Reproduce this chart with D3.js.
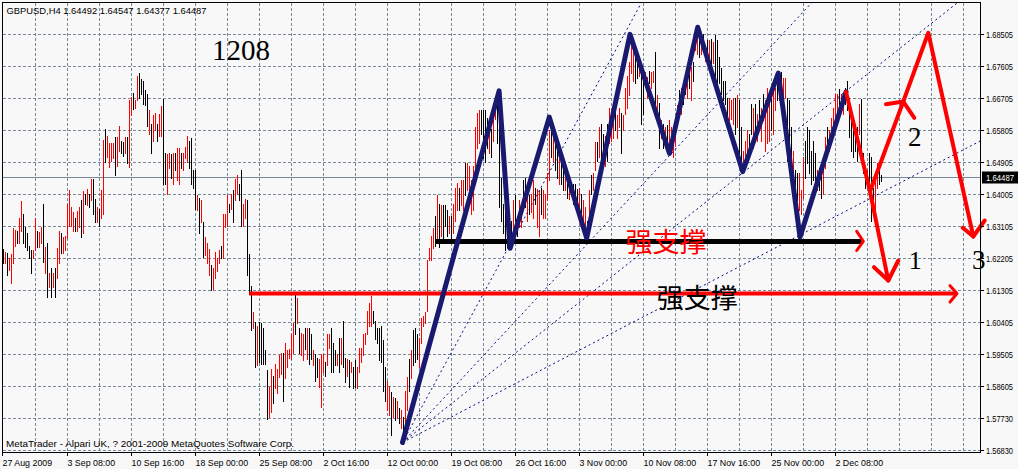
<!DOCTYPE html>
<html><head><meta charset="utf-8">
<script src="https://cdn.jsdelivr.net/npm/d3@7"></script>
<style>body{margin:0;background:#f8f8f8}svg{display:block}</style>
</head><body>
<svg id="c" width="1018" height="469"></svg>
<script>
// ---------- DATA ----------
const titleText = "GBPUSD,H4  1.64492 1.64547 1.64377 1.64487";
const copyrightText = "MetaTrader - Alpari UK, ? 2001-2009 MetaQuotes Software Corp.";
const lastPrice = 1.64487;

const highs = [1.6246,1.6240,1.6235,1.6223,1.6232,1.6305,1.6302,1.6299,1.6335,1.6381,
1.6347,1.6308,1.6293,1.6257,1.6243,1.6243,1.6333,1.6299,1.6296,1.6310,
1.6375,1.6252,1.6265,1.6179,1.6193,1.6179,1.6193,1.6249,1.6299,1.6291,
1.6280,1.6285,1.6375,1.6412,1.6364,1.6350,1.6335,1.6353,1.6364,1.6384,
1.6409,1.6403,1.6417,1.6401,1.6443,1.6443,1.6389,1.6364,1.6361,1.6412,
1.6555,1.6586,1.6566,1.6544,1.6544,1.6544,1.6561,1.6563,1.6592,1.6552,
1.6549,1.6563,1.6563,1.6665,1.6676,1.6687,1.6665,1.6735,1.6741,1.6724,
1.6721,1.6693,1.6684,1.6637,1.6600,1.6623,1.6631,1.6600,1.6628,1.6648,
1.6668,1.6516,1.6513,1.6516,1.6513,1.6518,1.6518,1.6532,1.6532,1.6518,
1.6518,1.6535,1.6566,1.6552,1.6558,1.6468,1.6468,1.6398,1.6392,1.6384,
1.6322,1.6280,1.6263,1.6246,1.6201,1.6193,1.6238,1.6221,1.6243,1.6257,
1.6347,1.6347,1.6398,1.6375,1.6403,1.6412,1.6443,1.6454,1.6431,1.6468,
1.6375,1.6387,1.6384,1.6232,1.6142,1.6069,1.6043,1.6032,1.6043,1.6040,
1.6026,1.5962,1.5906,1.5858,1.5911,1.5891,1.5925,1.5911,1.5948,1.5956,
1.5956,1.5984,1.5962,1.5967,1.6009,1.6038,1.6122,1.6108,1.6026,1.6012,
1.6009,1.6026,1.6026,1.6024,1.6009,1.5962,1.5953,1.5942,1.5939,1.5953,
1.5953,1.5928,1.6009,1.6009,1.6024,1.5984,1.5962,1.5953,1.5998,1.5998,
1.6046,1.5942,1.5939,1.5934,1.5928,1.5914,1.5934,1.5914,1.5970,1.5970,
1.6009,1.6012,1.6074,1.6094,1.6114,1.6074,1.6046,1.6026,1.6024,1.6032,
1.5990,1.5914,1.5877,1.5863,1.5844,1.5830,1.5827,1.5821,1.5799,1.5793,
1.5774,1.5849,1.5886,1.5939,1.5962,1.6018,1.6024,1.6009,1.5998,1.6052,
1.6060,1.6071,1.6215,1.6249,1.6285,1.6305,1.6341,1.6398,1.6375,1.6370,
1.6370,1.6370,1.6356,1.6341,1.6341,1.6375,1.6420,1.6434,1.6420,1.6440,
1.6440,1.6488,1.6488,1.6482,1.6440,1.6482,1.6589,1.6631,1.6637,1.6637,
1.6637,1.6637,1.6617,1.6600,1.6586,1.6609,1.6656,1.6665,1.6684,1.6448,
1.6375,1.6370,1.6335,1.6347,1.6327,1.6384,1.6398,1.6327,1.6384,1.6370,
1.6440,1.6448,1.6412,1.6398,1.6403,1.6440,1.6420,1.6417,1.6412,1.6420,
1.6412,1.6403,1.6462,1.6581,1.6586,1.6581,1.6566,1.6538,1.6505,1.6505,
1.6474,1.6460,1.6440,1.6420,1.6434,1.6431,1.6431,1.6417,1.6420,1.6403,
1.6384,1.6364,1.6327,1.6412,1.6454,1.6460,1.6547,1.6547,1.6589,1.6600,
1.6572,1.6566,1.6600,1.6645,1.6637,1.6637,1.6645,1.6623,1.6645,1.6631,
1.6623,1.6701,1.6735,1.6772,1.6828,1.6806,1.6786,1.6783,1.6769,1.6769,
1.6749,1.6744,1.6730,1.6749,1.6744,1.6749,1.6800,1.6679,1.6659,1.6609,
1.6600,1.6589,1.6595,1.6609,1.6589,1.6589,1.6609,1.6651,1.6693,1.6701,
1.6701,1.6730,1.6715,1.6749,1.6758,1.6772,1.6862,1.6876,1.6853,1.6834,
1.6853,1.6806,1.6834,1.6834,1.6839,1.6828,1.6848,1.6834,1.6786,1.6755,
1.6721,1.6721,1.6673,1.6673,1.6665,1.6673,1.6673,1.6679,1.6665,1.6589,
1.6524,1.6552,1.6581,1.6572,1.6656,1.6645,1.6656,1.6628,1.6665,1.6645,
1.6684,1.6665,1.6701,1.6665,1.6684,1.6713,1.6701,1.6730,1.6727,1.6744,
1.6727,1.6727,1.6673,1.6665,1.6589,1.6524,1.6468,1.6460,1.6460,1.6412,
1.6505,1.6552,1.6589,1.6581,1.6524,1.6552,1.6516,1.6468,1.6476,1.6488,
1.6505,1.6561,1.6589,1.6581,1.6617,1.6645,1.6684,1.6684,1.6698,1.6684,
1.6673,1.6701,1.6721,1.6673,1.6645,1.6609,1.6600,1.6589,1.6656,1.6670,
1.6516,1.6468,1.6468,1.6516,1.6505,1.6420,1.6448,1.6488,1.6468,1.6455];

const lows = [1.6207,1.6207,1.6173,1.6187,1.6151,1.6207,1.6257,1.6265,1.6265,1.6299,
1.6265,1.6252,1.6243,1.6221,1.6179,1.6223,1.6243,1.6252,1.6252,1.6265,
1.6212,1.6179,1.6111,1.6139,1.6111,1.6139,1.6111,1.6165,1.6207,1.6235,
1.6235,1.6243,1.6277,1.6313,1.6313,1.6299,1.6299,1.6299,1.6308,1.6282,
1.6293,1.6375,1.6370,1.6364,1.6384,1.6347,1.6322,1.6322,1.6313,1.6335,
1.6347,1.6491,1.6505,1.6479,1.6496,1.6502,1.6454,1.6482,1.6524,1.6516,
1.6510,1.6516,1.6488,1.6479,1.6623,1.6642,1.6645,1.6665,1.6673,1.6684,
1.6656,1.6651,1.6592,1.6572,1.6518,1.6552,1.6581,1.6552,1.6566,1.6566,
1.6431,1.6431,1.6403,1.6476,1.6448,1.6431,1.6468,1.6440,1.6431,1.6476,
1.6468,1.6502,1.6491,1.6474,1.6431,1.6420,1.6361,1.6356,1.6291,1.6322,
1.6226,1.6229,1.6207,1.6173,1.6131,1.6136,1.6165,1.6184,1.6207,1.6221,
1.6221,1.6308,1.6313,1.6350,1.6361,1.6322,1.6384,1.6403,1.6384,1.6313,
1.6313,1.6335,1.6173,1.6122,1.6018,1.6026,1.5914,1.5920,1.5928,1.5925,
1.5925,1.5925,1.5768,1.5774,1.5788,1.5813,1.5855,1.5841,1.5886,1.5897,
1.5821,1.5883,1.5914,1.5942,1.5939,1.5956,1.6009,1.6038,1.5956,1.5948,
1.5934,1.5967,1.5939,1.5925,1.5939,1.5920,1.5877,1.5886,1.5858,1.5804,
1.5900,1.5891,1.5920,1.5970,1.5900,1.5900,1.5920,1.5920,1.5900,1.5925,
1.5914,1.5872,1.5891,1.5858,1.5900,1.5855,1.5858,1.5855,1.5900,1.5928,
1.5948,1.5981,1.6009,1.6032,1.6032,1.6038,1.5995,1.5984,1.5934,1.5928,
1.5849,1.5821,1.5793,1.5779,1.5723,1.5774,1.5765,1.5771,1.5757,1.5743,
1.5700,1.5737,1.5793,1.5849,1.5883,1.5920,1.5928,1.5939,1.5914,1.5984,
1.6032,1.6040,1.6074,1.6215,1.6215,1.6249,1.6257,1.6271,1.6252,1.6285,
1.6271,1.6313,1.6285,1.6293,1.6277,1.6291,1.6327,1.6356,1.6356,1.6370,
1.6356,1.6398,1.6412,1.6384,1.6347,1.6356,1.6431,1.6530,1.6544,1.6572,
1.6502,1.6491,1.6532,1.6516,1.6505,1.6552,1.6614,1.6544,1.6364,1.6327,
1.6291,1.6243,1.6252,1.6263,1.6252,1.6299,1.6327,1.6285,1.6308,1.6308,
1.6364,1.6364,1.6327,1.6347,1.6350,1.6335,1.6375,1.6308,1.6285,1.6347,
1.6335,1.6335,1.6384,1.6440,1.6505,1.6491,1.6468,1.6448,1.6431,1.6431,
1.6412,1.6412,1.6392,1.6389,1.6398,1.6375,1.6364,1.6356,1.6350,1.6319,
1.6327,1.6299,1.6285,1.6308,1.6403,1.6412,1.6468,1.6496,1.6505,1.6488,
1.6505,1.6482,1.6496,1.6544,1.6552,1.6558,1.6581,1.6558,1.6589,1.6516,
1.6581,1.6628,1.6645,1.6679,1.6741,1.6721,1.6713,1.6727,1.6735,1.6600,
1.6628,1.6713,1.6673,1.6713,1.6699,1.6716,1.6656,1.6623,1.6532,1.6558,
1.6532,1.6552,1.6518,1.6524,1.6516,1.6505,1.6538,1.6595,1.6637,1.6628,
1.6656,1.6684,1.6673,1.6699,1.6665,1.6721,1.6806,1.6797,1.6786,1.6797,
1.6820,1.6777,1.6792,1.6777,1.6758,1.6769,1.6730,1.6713,1.6715,1.6684,
1.6665,1.6656,1.6589,1.6609,1.6614,1.6600,1.6572,1.6589,1.6505,1.6460,
1.6468,1.6496,1.6524,1.6532,1.6572,1.6532,1.6561,1.6552,1.6589,1.6552,
1.6609,1.6524,1.6544,1.6552,1.6581,1.6572,1.6637,1.6665,1.6665,1.6716,
1.6673,1.6673,1.6496,1.6476,1.6448,1.6460,1.6412,1.6384,1.6356,1.6347,
1.6392,1.6448,1.6488,1.6460,1.6431,1.6440,1.6420,1.6412,1.6412,1.6392,
1.6403,1.6476,1.6532,1.6524,1.6552,1.6572,1.6609,1.6609,1.6637,1.6645,
1.6628,1.6656,1.6637,1.6561,1.6524,1.6505,1.6524,1.6496,1.6572,1.6505,
1.6460,1.6420,1.6431,1.6403,1.6327,1.6375,1.6347,1.6420,1.6431,1.6438];

// r = red bar, k = black bar
const barColorCodes = ("krkrrrrkrr"+"kkkkkrrkrr"+"krkrkrkrrk"+"rrrrrrkrrk"+"rkrkrkkrkr"+
 "rkrrrrkrrk"+"krkrrkrrkk"+"kkkrkrrkrr"+"kkrrkrkrrk"+"rrrkkkkrkr"+
 "krrrkrrrrk"+"rrrkrkrrkk"+"rrkkkrkrkk"+"kkkrrkrrrr"+"krrrrrkrkr"+
 "rkrkkrkkrr"+"rkrrkkkrkr"+"kkrkrkkrrr"+"rrrrrkkkkk"+"kkrrkrkrkr"+
 "krrkrkkkrr"+"rrrrrrkrkr"+"kkkrkrrrkr"+"rkrrrrrrrk"+"kkkrkrrkkk"+
 "kkkkkrkkrr"+"kkrkrrkrrk"+"rrrrkrkkrk"+"krkrkkkkrk"+"rrkrkrrkrk"+
 "krkrrrkrrk"+"rrrrrrkkrk"+"krrkrrkrkr"+"krkrrrrrkr"+"kkrkrkrrkr"+
 "krkrkrkkkk"+"kkkrrrkrkk"+"rrrkkrkrkr"+"krrrkrrkrk"+"rrkkkrkkrr"+
 "rkkkkkkrkk"+"rrkrrrrrkr"+"rkkkkkkkrk"+"kkrkkkrrkk").split("");

const xTickIndex = [0,32,64,96,128,160,192,224,256,288,320,352,384,416];
const xTickLabels = ["27 Aug 2009","3 Sep 08:00","10 Sep 16:00","18 Sep 00:00","25 Sep 08:00","2 Oct 16:00",
  "12 Oct 00:00","19 Oct 08:00","26 Oct 16:00","3 Nov 00:00","10 Nov 08:00","17 Nov 16:00","25 Nov 00:00","2 Dec 08:00"];
const yTickValues = [1.68505,1.67605,1.66705,1.65805,1.64905,1.64005,1.63105,1.62205,1.61305,1.60405,1.59505,1.58605,1.57705,1.56805];
const yTickLabels = ["1.68505","1.67605","1.66705","1.65805","1.64905","1.64005","1.63105","1.62205","1.61305","1.60405","1.59505","1.58605","1.57730","1.56830"];

// navy zigzag (bar index, price)
const zigIdx   = [199.5, 247.8, 253.3, 272.9, 291.6, 313.25, 333.0, 347.1, 369.6, 387.4, 398.25, 421.25];
const zigPrice = [1.5703, 1.6692, 1.6249, 1.6618, 1.6278, 1.6851, 1.6516, 1.6871, 1.6465, 1.6742, 1.6281, 1.6689];

// fan lines from the low: origin + anchor points
const fanOrigin = [199.5, 1.5703];
const fanIdx   = [318.75, 403.75, 421.6, 488.25];
const fanPrice = [1.69377, 1.69377, 1.6693, 1.65507];

// red projection path
const redDownIdx = [421.25, 433.25, 442.4];
const redDownPrice = [1.6689, 1.6409, 1.61586];
const redUpIdx = [433.25, 449.9, 462.4, 484.9];
const redUpPrice = [1.6409, 1.6662, 1.68553, 1.62823];
// arrow heads: [arm1, tip, arm2]
const arrowHeads = [
  [[435.25,1.6196],[442.4,1.61586],[447.4,1.62149]],
  [[441.25,1.66544],[449.9,1.6662],[455.4,1.66162]],
  [[479.6,1.63068],[484.9,1.62823],[490.6,1.63274]]
];
// support lines
const blackSupport = {from:215.9, to:429.1, price:1.6268};
const redSupport = {from:122.9, to:476.6, price:1.6122};
const blackChevron = [[426.6,1.6297],[429.9,1.6269],[426.6,1.6243]];
const redChevron = [[473.25,1.6144],[476.75,1.6122],[473.25,1.6098]];

// ---------- CHART ----------
const svg = d3.select("#c");
const x = d3.scaleLinear().domain([0,488]).range([3.5,979.5]);
const y = d3.scaleLinear().domain([1.567487,1.69405]).range([452.5,2.5]);
const L = 2.5, R = 980.5, T = 2.5, B = 452.5;
const gridColor = "#778899";
const sans = "'Liberation Sans', Arial, sans-serif";
const serif = "'Liberation Serif', 'Times New Roman', serif";

svg.append("rect").attr("width",1018).attr("height",469).attr("fill","#f8f8f8");

// grid
const grid = svg.append("g").attr("shape-rendering","crispEdges").attr("stroke",gridColor).attr("stroke-dasharray","3,2");
grid.selectAll(".h").data(yTickValues).join("line")
  .attr("x1",L).attr("x2",R).attr("y1",d=>Math.floor(y(d))+0.5).attr("y2",d=>Math.floor(y(d))+0.5);
grid.selectAll(".v").data(d3.range(16,488,16)).join("line")
  .attr("y1",T).attr("y2",B).attr("x1",d=>x(d)).attr("x2",d=>x(d));

// current price line
svg.append("line").attr("x1",L).attr("x2",R)
  .attr("y1",Math.floor(y(lastPrice))+0.5).attr("y2",Math.floor(y(lastPrice))+0.5)
  .attr("stroke",gridColor).attr("shape-rendering","crispEdges");

// bars
svg.append("g").attr("shape-rendering","crispEdges").selectAll("line").data(highs).join("line")
  .attr("x1",(d,i)=>x(i)).attr("x2",(d,i)=>x(i))
  .attr("y1",d=>Math.round(y(d))).attr("y2",(d,i)=>Math.round(y(lows[i]))+1)
  .attr("stroke",(d,i)=>barColorCodes[i]==="r"?"#ff0000":"#000000").attr("stroke-width",1);

// clip
svg.append("clipPath").attr("id","plot").append("rect").attr("x",L).attr("y",T).attr("width",R-L).attr("height",B-T);

// fan lines
const o = [x(fanOrigin[0]), y(fanOrigin[1])];
svg.append("g").attr("clip-path","url(#plot)").selectAll("line").data(fanIdx).join("line")
  .attr("x1",o[0]).attr("y1",o[1])
  .attr("x2",(d,i)=>o[0]+(x(d)-o[0])*4).attr("y2",(d,i)=>o[1]+(y(fanPrice[i])-o[1])*4)
  .attr("stroke","#0a0a80").attr("stroke-width",1).attr("stroke-dasharray","2,3");

// red support line
svg.append("line").attr("x1",x(redSupport.from)).attr("x2",x(redSupport.to))
  .attr("y1",y(redSupport.price)).attr("y2",y(redSupport.price))
  .attr("stroke","#ff0000").attr("stroke-width",4);
// black support line
svg.append("line").attr("x1",x(blackSupport.from)).attr("x2",x(blackSupport.to))
  .attr("y1",y(blackSupport.price)).attr("y2",y(blackSupport.price))
  .attr("stroke","#000000").attr("stroke-width",5);

const line = d3.line().x(d=>x(d[0])).y(d=>y(d[1]));

// navy zigzag
svg.append("path").attr("d",line(zigIdx.map((v,i)=>[v,zigPrice[i]])))
  .attr("fill","none").attr("stroke","#191970").attr("stroke-width",5)
  .attr("stroke-linejoin","round").attr("stroke-linecap","round");

// red projection
const redG = svg.append("g").attr("fill","none").attr("stroke","#ff0000").attr("stroke-width",4)
  .attr("stroke-linejoin","round").attr("stroke-linecap","round");
redG.append("path").attr("d",line(redDownIdx.map((v,i)=>[v,redDownPrice[i]])));
redG.append("path").attr("d",line(redUpIdx.map((v,i)=>[v,redUpPrice[i]])));
arrowHeads.forEach(a=>redG.append("path").attr("d",line(a)));
redG.append("path").attr("d",line(blackChevron)).attr("stroke-width",3);
redG.append("path").attr("d",line(redChevron)).attr("stroke-width",3);

// annotation texts
const cjk = "'Noto Sans CJK SC', sans-serif";
svg.append("text").attr("x",x(311)).attr("y",y(1.6238)).text("强支撑")
  .attr("font-family",cjk).attr("font-size",27).attr("fill","#ff0000");
svg.append("text").attr("x",x(326.6)).attr("y",y(1.6080)).text("强支撑")
  .attr("font-family",cjk).attr("font-size",27).attr("fill","#000000");
svg.append("text").attr("x",x(104.3)).attr("y",y(1.67793)).text("1208")
  .attr("font-family",serif).attr("font-size",29).attr("fill","#000");
svg.append("text").attr("x",x(452.25)).attr("y",y(1.6536)).text("2")
  .attr("font-family",serif).attr("font-size",27).attr("fill","#000");
svg.append("text").attr("x",x(452.6)).attr("y",y(1.6191)).text("1")
  .attr("font-family",serif).attr("font-size",26).attr("fill","#000");
svg.append("text").attr("x",x(484.25)).attr("y",y(1.6191)).text("3")
  .attr("font-family",serif).attr("font-size",27).attr("fill","#000");

// title & copyright
svg.append("text").attr("x",6.5).attr("y",14).text(titleText)
  .attr("font-family",sans).attr("font-size",9.5).attr("fill","#000")
  .attr("textLength",200).attr("lengthAdjust","spacingAndGlyphs");
svg.append("text").attr("x",6).attr("y",446.5).text(copyrightText)
  .attr("font-family",sans).attr("font-size",9.5).attr("fill","#000")
  .attr("textLength",288).attr("lengthAdjust","spacingAndGlyphs");

// frame
svg.append("rect").attr("x",L).attr("y",T).attr("width",R-L).attr("height",B-T)
  .attr("fill","none").attr("stroke","#000").attr("shape-rendering","crispEdges");

// y axis
const yAxis = d3.axisRight(y).tickValues(yTickValues).tickFormat((d,i)=>yTickLabels[i]).tickSize(3).tickPadding(3);
const ya = svg.append("g").attr("transform",`translate(${R},0)`).call(yAxis);
ya.select(".domain").remove();
ya.selectAll(".tick").attr("transform",d=>`translate(0,${Math.floor(y(d))+0.5})`);
ya.selectAll(".tick line").attr("stroke","#000").attr("shape-rendering","crispEdges");
ya.selectAll(".tick text").attr("font-family",sans).attr("font-size",8.5).attr("fill","#000")
  .attr("x",5.5).attr("dy","0.36em").attr("textLength",27).attr("lengthAdjust","spacingAndGlyphs");

// x axis
const xAxis = d3.axisBottom(x).tickValues(xTickIndex).tickFormat((d,i)=>xTickLabels[i]).tickSize(3).tickPadding(3);
const xa = svg.append("g").attr("transform",`translate(0,${B})`).call(xAxis);
xa.select(".domain").remove();
xa.selectAll(".tick").attr("transform",d=>`translate(${d===0?L:x(d)},0)`);
xa.selectAll(".tick line").attr("stroke","#000").attr("shape-rendering","crispEdges");
xa.selectAll(".tick text").attr("font-family",sans).attr("font-size",9.5).attr("fill","#000")
  .attr("text-anchor","start").attr("x",0).attr("y",13).attr("dy",0)
  .each(function(){ const w=this.getComputedTextLength(); d3.select(this).attr("textLength",w*0.93).attr("lengthAdjust","spacingAndGlyphs"); });

// current price label
const py = Math.floor(y(lastPrice))+0.5;
svg.append("rect").attr("x",982).attr("y",py-6).attr("width",36).attr("height",12).attr("fill","#000");
svg.append("text").attr("x",986).attr("y",py+3.2).text(d3.format(".5f")(lastPrice))
  .attr("font-family",sans).attr("font-size",8.5).attr("fill","#fff")
  .attr("textLength",28).attr("lengthAdjust","spacingAndGlyphs");
</script>
</body></html>
